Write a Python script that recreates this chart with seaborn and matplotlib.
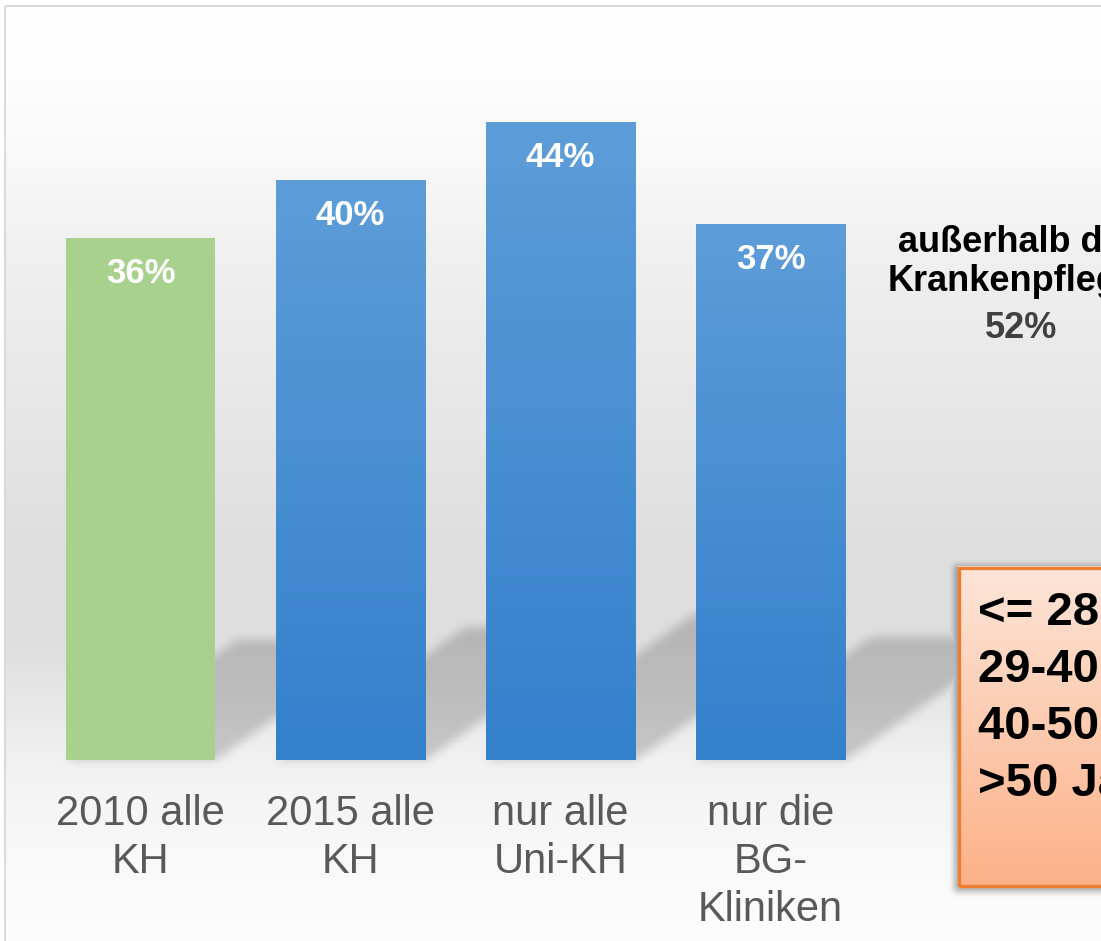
import numpy as np
import matplotlib
matplotlib.use("Agg")
import matplotlib.pyplot as plt
from matplotlib.patches import Rectangle
import seaborn as sns

# ---------------- data ----------------
categories = ["2010 alle\nKH", "2015 alle\nKH", "nur alle\nUni-KH", "nur die\nBG-\nKliniken"]
values = [36, 40, 44, 37]
bar_colors = ["#a9d18e", "#4a8fd2", "#4a8fd2", "#4a8fd2"]
side_lines = ["außerhalb der", "Krankenpflege"]
side_value = "52%"
box_lines = ["<= 28 Jahre", "29-40 Jahre", "40-50 Jahre", ">50 Jahre"]

sns.set_style("white")
plt.rcParams["font.family"] = ["Liberation Sans", "DejaVu Sans"]

W, H = 1101, 941
fig = plt.figure(figsize=(W / 100, H / 100), dpi=100)
ax = fig.add_axes([0, 0, 1, 1])

# pixel <-> data mapping (layout)
BASE_PY = 760.0
PX_PER_CAT = 210.0
PX_PER_UNIT = 14.5
X0_PX = 140.5


def X(px):
    return (px - X0_PX) / PX_PER_CAT


def Y(py):
    return (BASE_PY - py) / PX_PER_UNIT


xlim = (X(0), X(W))
ylim = (Y(H), Y(0))

# ---------------- bars (seaborn) ----------------
sns.barplot(x=categories, y=values, hue=categories, palette=bar_colors,
            width=0.714, saturation=1, legend=False, ax=ax, zorder=3,
            edgecolor="none")
ax.axis("off")
ax.set_autoscale_on(False)

# ---------------- background gradient ----------------
stops_py = [0, 60, 150, 250, 350, 450, 560, 640, 700, 760, 800, 880, 941]
stops_g = [255, 254, 249, 240, 234, 228, 222, 223, 231, 241, 245, 250, 253]
rows = np.interp(np.arange(H) + 0.5, stops_py, stops_g) / 255.0
bg = rows[:, None]
bg_img = np.dstack([bg, bg, bg])
ax.imshow(bg_img, extent=(X(6), X(W), Y(H), Y(6)), aspect="auto",
          origin="upper", zorder=0, interpolation="bilinear")

# frame border
ax.plot([X(5.5), X(5.5)], [Y(H), Y(5.5)], color="#d3d3d3", lw=1.2, zorder=0.5,
        solid_capstyle="butt")
ax.plot([X(5.5), X(W)], [Y(5.5), Y(5.5)], color="#d3d3d3", lw=1.2, zorder=0.5,
        solid_capstyle="butt")


# ---------------- shadows ----------------
def box_blur(a, r):
    k = 2 * r + 1
    p = np.pad(a, ((r, r), (0, 0)), mode="edge")
    c = np.vstack([np.zeros((1, a.shape[1])), np.cumsum(p, axis=0)])
    a = (c[k:] - c[:-k]) / k
    p = np.pad(a, ((0, 0), (r, r)), mode="edge")
    c = np.hstack([np.zeros((a.shape[0], 1)), np.cumsum(p, axis=1)])
    return (c[:, k:] - c[:, :-k]) / k


yy, xx = np.mgrid[0:H, 0:W] + 0.5
bar_mask = np.zeros((H, W))
slope = 0.7
for p in ax.patches:
    px0 = X0_PX + PX_PER_CAT * p.get_x()
    px1 = px0 + PX_PER_CAT * p.get_width()
    hpx = PX_PER_UNIT * p.get_height()
    sh = 0.23 * hpx
    t = BASE_PY - yy
    inside = (t >= 0) & (t <= sh) & (xx >= px0 + t / slope) & (xx <= px1 + t / slope)
    bar_mask = np.maximum(bar_mask, inside.astype(float))
bar_mask = box_blur(box_blur(bar_mask, 5), 5)

box_left, box_top, box_bottom = 958, 566, 887
box_mask = ((xx >= box_left - 4) & (yy >= box_top - 1) & (yy <= box_bottom + 5)).astype(float)
box_mask = box_blur(box_blur(box_mask, 3), 3)

alpha = np.maximum(0.18 * bar_mask, 0.30 * box_mask)
shadow = np.zeros((H, W, 4))
shadow[..., 3] = alpha
ax.imshow(shadow, extent=(X(0), X(W), Y(H), Y(0)), aspect="auto",
          origin="upper", zorder=1, interpolation="bilinear")

# ---------------- blue gradient on bars ----------------
top_c = np.array([93, 157, 217]) / 255.0
bot_c = np.array([51, 128, 203]) / 255.0
grad_t = np.linspace(0, 1, 256)[:, None]
grad = top_c[None, None, :] * (1 - grad_t[..., None]) + bot_c[None, None, :] * grad_t[..., None]
for i, p in enumerate(ax.patches):
    if i == 0:
        continue
    im = ax.imshow(grad, extent=(p.get_x(), p.get_x() + p.get_width(), 0, p.get_height()),
                   aspect="auto", origin="upper", zorder=3.5, interpolation="bilinear")
    im.set_clip_path(p)

# ---------------- value labels ----------------
for i, v in enumerate(values):
    ax.text(i, v - 45 / PX_PER_UNIT, f"{v}%", ha="center", va="baseline",
            color="white", fontsize=25, fontweight="bold", zorder=5)

# ---------------- category labels ----------------
for i, cat in enumerate(categories):
    for j, line in enumerate(cat.split("\n")):
        ax.text(i, Y(825 + 48 * j), line, ha="center", va="baseline",
                color="#595959", fontsize=30, zorder=5)

# ---------------- side annotation ----------------
ax.text(X(898), Y(252), side_lines[0], ha="left", va="baseline",
        color="black", fontsize=26, fontweight="bold", zorder=5)
ax.text(X(888), Y(291), side_lines[1], ha="left", va="baseline",
        color="black", fontsize=26, fontweight="bold", zorder=5)
ax.text(X(1021), Y(338), side_value, ha="center", va="baseline",
        color="#404040", fontsize=26, fontweight="bold", zorder=5)

# ---------------- orange box ----------------
bt = np.linspace(0, 1, 256)[:, None]
b_top = np.array([253, 229, 216]) / 255.0
b_bot = np.array([252, 177, 136]) / 255.0
bgrad = b_top[None, None, :] * (1 - bt[..., None]) + b_bot[None, None, :] * bt[..., None]
ax.imshow(bgrad, extent=(X(box_left), X(W + 40), Y(box_bottom), Y(box_top)),
          aspect="auto", origin="upper", zorder=6, interpolation="bilinear")
ax.add_patch(Rectangle((X(box_left + 1.5), Y(box_bottom - 1.5)),
                       X(W + 40) - X(box_left + 1.5),
                       Y(box_top + 1.5) - Y(box_bottom - 1.5),
                       facecolor="none", edgecolor="#ed7d31", lw=2.4, zorder=7,
                       clip_on=False))
for j, line in enumerate(box_lines):
    ax.text(X(978), Y(625 + 57 * j), line, ha="left", va="baseline",
            color="black", fontsize=34, fontweight="bold", zorder=8)

ax.set_xlim(*xlim)
ax.set_ylim(*ylim)

fig.savefig("out.png", dpi=100, facecolor="white")
